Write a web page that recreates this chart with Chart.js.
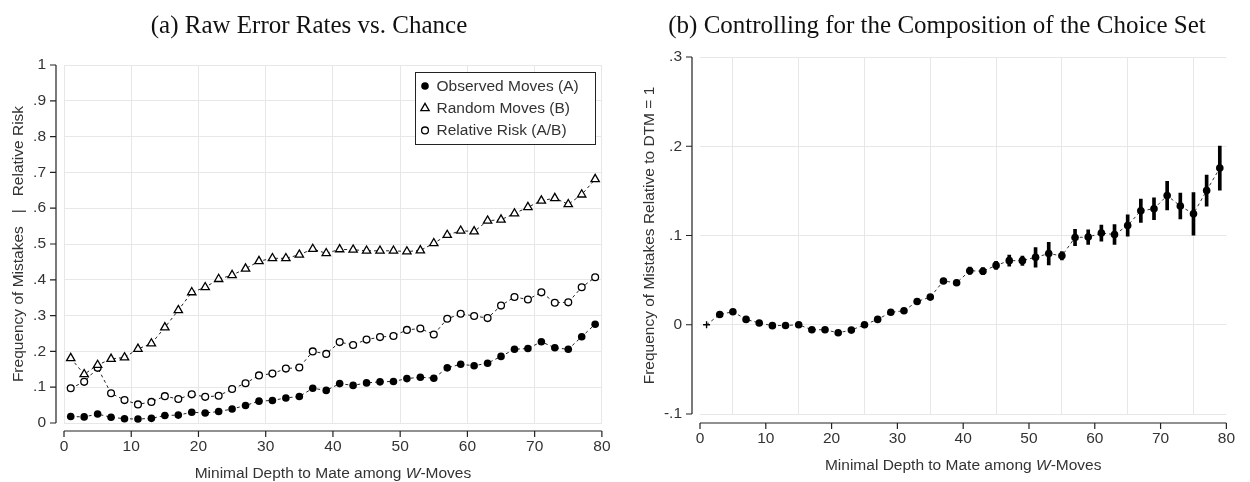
<!DOCTYPE html>
<html>
<head>
<meta charset="utf-8">
<script src="https://cdn.jsdelivr.net/npm/chart.js@4"></script>
<style>
  html, body { margin: 0; padding: 0; background: #fff; }
  body { width: 1250px; height: 482px; position: relative; overflow: hidden; }
  .panel { position: absolute; top: 0; width: 625px; height: 482px; }
  .ptitle { position: absolute; top: 12px; font: 25px/25px "Liberation Serif", serif; color: #111;
            white-space: nowrap; transform: translateX(-50%); }
</style>
</head>
<body>
<div class="panel" style="left:0"><canvas id="chartA"></canvas></div>
<div class="panel" style="left:625px"><canvas id="chartB"></canvas></div>
<div class="ptitle" style="left:309px">(a) Raw Error Rates vs. Chance</div>
<div class="ptitle" style="left:937px">(b) Controlling for the Composition of the Choice Set</div>
<script>
// ---------------- DATA ----------------
const depth = [1, 3, 5, 7, 9, 11, 13, 15, 17, 19, 21, 23, 25, 27, 29, 31, 33, 35, 37, 39,
               41, 43, 45, 47, 49, 51, 53, 55, 57, 59, 61, 63, 65, 67, 69, 71, 73, 75, 77, 79];

// panel (a)
const observed = [.018, .017, .025, .016, .012, .011, .013, .021, .022, .030,
                  .028, .032, .039, .049, .061, .063, .070, .074, .097, .091,
                  .110, .105, .112, .115, .116, .124, .128, .125, .154, .164,
                  .160, .167, .186, .206, .208, .227, .210, .206, .241, .276];
const randomMoves = [.181, .136, .162, .179, .183, .207, .222, .267, .315, .365,
                     .379, .402, .413, .431, .452, .460, .460, .470, .486, .474,
                     .485, .484, .481, .481, .481, .479, .482, .502, .525, .537,
                     .535, .565, .568, .585, .603, .621, .628, .611, .638, .681];
const relRisk = [.097, .115, .154, .083, .064, .052, .059, .075, .067, .080,
                 .073, .076, .095, .111, .133, .138, .152, .155, .200, .193,
                 .226, .218, .233, .240, .243, .260, .264, .247, .291, .305,
                 .299, .293, .328, .352, .345, .365, .336, .337, .379, .407];

// panel (b)
const relToDtm1 = [0, .0115, .0146, .006, .002, -.001, -.0008, 0, -.0056, -.0056,
                   -.009, -.006, 0, .006, .014, .0157, .026, .031, .049, .047,
                   .0605, .060, .0665, .0718, .0718, .0756, .0797, .0772, .0978, .0982,
                   .1027, .1011, .1112, .1277, .130, .1448, .133, .1243, .1504, .1755];
const ciHalf = [0, .0015, .0015, .0015, .0015, .0015, .0015, .0015, .0015, .0015,
                .002, .002, .002, .002, .002, .002, .0025, .0025, .003, .003,
                .004, .004, .0045, .0063, .0052, .011, .0127, .0047, .0092, .0082,
                .009, .0112, .012, .013, .0123, .016, .0144, .0239, .0174, .0248];

const xTicks = [0, 10, 20, 30, 40, 50, 60, 70, 80];
const xTickLabels = ["0", "10", "20", "30", "40", "50", "60", "70", "80"];
const yTicksA = [0, .1, .2, .3, .4, .5, .6, .7, .8, .9, 1];
const yTickLabelsA = ["0", ".1", ".2", ".3", ".4", ".5", ".6", ".7", ".8", ".9", "1"];
const yTicksB = [-.1, 0, .1, .2, .3];
const yTickLabelsB = ["-.1", "0", ".1", ".2", ".3"];

const legendLabels = ["Observed Moves (A)", "Random Moves (B)", "Relative Risk (A/B)"];
const xTitleParts = ["Minimal Depth to Mate among ", "W", "-Moves"];
const yTitleA = "Frequency of Mistakes   |   Relative Risk";
const yTitleB = "Frequency of Mistakes Relative to DTM = 1";

// ---------------- STYLE ----------------
const FONT = '"Liberation Sans", Arial, sans-serif';
const FS = 15.5;
const TXT = "#333";
const GRID = "#e7e7e7";
const AXIS = "#222";

Chart.defaults.font.family = FONT;
Chart.defaults.font.size = FS;
Chart.defaults.color = TXT;

// detached axes (Stata look) + x title with italic W
const stataAxes = {
  id: "stataAxes",
  afterDraw(chart, args, o) {
    const { ctx, chartArea: a, scales: { x, y } } = chart;
    const ax = a.left - o.offY, ay = a.bottom + o.offX;
    ctx.save();
    ctx.strokeStyle = AXIS;
    ctx.lineWidth = 1.2;
    ctx.beginPath();
    ctx.moveTo(ax, y.getPixelForValue(y.max));
    ctx.lineTo(ax, y.getPixelForValue(y.min));
    y.ticks.forEach((t) => {
      const p = y.getPixelForValue(t.value);
      ctx.moveTo(ax, p); ctx.lineTo(ax - 6, p);
    });
    ctx.moveTo(x.getPixelForValue(x.min), ay);
    ctx.lineTo(x.getPixelForValue(x.max), ay);
    x.ticks.forEach((t) => {
      const p = x.getPixelForValue(t.value);
      ctx.moveTo(p, ay); ctx.lineTo(p, ay + 6);
    });
    ctx.stroke();

    // x title
    const fonts = [`${FS}px ${FONT}`, `italic ${FS}px ${FONT}`, `${FS}px ${FONT}`];
    const widths = xTitleParts.map((s, i) => { ctx.font = fonts[i]; return ctx.measureText(s).width; });
    let cx = (a.left + a.right) / 2 - widths.reduce((p, c) => p + c, 0) / 2;
    ctx.fillStyle = TXT;
    ctx.textBaseline = "alphabetic";
    ctx.textAlign = "left";
    xTitleParts.forEach((s, i) => {
      ctx.font = fonts[i];
      ctx.fillText(s, cx, ay + 47);
      cx += widths[i];
    });
    ctx.restore();
  },
};

// boxed legend inside plot (a)
const boxLegend = {
  id: "boxLegend",
  afterDraw(chart) {
    const { ctx, chartArea: a } = chart;
    const w = 180, h = 72;
    const l = Math.round(a.right - 7 - w), t = Math.round(a.top + 7);
    ctx.save();
    ctx.fillStyle = "#fff";
    ctx.fillRect(l, t, w, h);
    ctx.strokeStyle = AXIS;
    ctx.lineWidth = 1;
    ctx.strokeRect(l + 0.5, t + 0.5, w, h);
    chart.data.datasets.forEach((ds, i) => {
      const cy = t + 14 + i * 22.2;
      ctx.fillStyle = ds.pointBackgroundColor;
      ctx.strokeStyle = ds.pointBorderColor;
      ctx.lineWidth = ds.pointBorderWidth;
      Chart.helpers.drawPoint(ctx, {
        pointStyle: ds.pointStyle, radius: ds.pointRadius,
        borderWidth: ds.pointBorderWidth, rotation: 0,
      }, l + 10, cy);
      ctx.fillStyle = TXT;
      ctx.font = `${FS}px ${FONT}`;
      ctx.textBaseline = "middle";
      ctx.fillText(legendLabels[i], l + 21.5, cy + 0.5);
    });
    ctx.restore();
  },
};

function makeScales(sz) {
  return {
    x: {
      type: "linear", min: 0, max: 80, offset: false,
      afterBuildTicks: (s) => { s.ticks = xTicks.map((v) => ({ value: v })); },
      afterFit: (s) => { s.height = sz.xH; },
      grid: { color: GRID, drawTicks: false, lineWidth: 1 },
      border: { display: false },
      ticks: { padding: sz.xPad, color: TXT, maxRotation: 0, autoSkip: false,
               callback: (v, i) => xTickLabels[i] },
    },
    y: {
      type: "linear", min: sz.yTicks[0], max: sz.yTicks[sz.yTicks.length - 1],
      afterBuildTicks: (s) => { s.ticks = sz.yTicks.map((v) => ({ value: v })); },
      afterFit: (s) => { s.width = sz.yW; },
      grid: { color: GRID, drawTicks: false, lineWidth: 1 },
      border: { display: false },
      ticks: { padding: 18, color: TXT, autoSkip: false,
               callback: (v, i) => sz.yLabels[i] },
      title: { display: true, text: sz.yTitle, color: TXT, padding: sz.titlePad,
               font: { size: FS } },
    },
  };
}

const common = {
  responsive: true,
  maintainAspectRatio: false,
  animation: false,
  events: [],
};

// ---------------- CHART A ----------------
new Chart(document.getElementById("chartA"), {
  type: "line",
  data: {
    datasets: [
      {
        data: depth.map((x, i) => ({ x, y: observed[i] })),
        borderColor: "#222", borderWidth: 1, borderDash: [3, 3],
        pointStyle: "circle", pointRadius: 3.8,
        pointBackgroundColor: "#000", pointBorderColor: "#000", pointBorderWidth: 0,
      },
      {
        data: depth.map((x, i) => ({ x, y: randomMoves[i] })),
        borderColor: "#222", borderWidth: 1, borderDash: [3, 3],
        pointStyle: "triangle", pointRadius: 4.8,
        pointBackgroundColor: "#fff", pointBorderColor: "#000", pointBorderWidth: 1.3,
      },
      {
        data: depth.map((x, i) => ({ x, y: relRisk[i] })),
        borderColor: "#222", borderWidth: 1, borderDash: [3, 3],
        pointStyle: "circle", pointRadius: 3.4,
        pointBackgroundColor: "#fff", pointBorderColor: "#000", pointBorderWidth: 1.3,
      },
    ],
  },
  options: {
    ...common,
    layout: { padding: { left: 0, top: 65, right: 23, bottom: 0 } },
    scales: makeScales({ xH: 59, xPad: 14.5, yW: 64, yTicks: yTicksA, yLabels: yTickLabelsA,
                         yTitle: yTitleA, titlePad: 9 }),
    plugins: { legend: { display: false }, tooltip: { enabled: false },
               stataAxes: { offX: 8, offY: 8 } },
  },
  plugins: [stataAxes, boxLegend],
});

// ---------------- CHART B ----------------
new Chart(document.getElementById("chartB"), {
  type: "line",
  data: {
    datasets: [
      {
        type: "line",
        data: depth.map((x, i) => ({ x, y: relToDtm1[i] })),
        borderColor: "#333", borderWidth: 1, borderDash: [3, 3],
        pointStyle: (c) => (c.dataIndex === 0 ? "cross" : "circle"),
        pointRadius: (c) => (c.dataIndex === 0 ? 3.5 : 3.8),
        pointBackgroundColor: "#000", pointBorderColor: "#000",
        pointBorderWidth: (c) => (c.dataIndex === 0 ? 1.4 : 0),
        order: 0,
      },
      {
        type: "bar",
        data: depth.map((x, i) => ({ x, y: [relToDtm1[i] - ciHalf[i], relToDtm1[i] + ciHalf[i]] })),
        backgroundColor: "#000", borderWidth: 0, barThickness: 3,
        order: 1,
      },
    ],
  },
  options: {
    ...common,
    layout: { padding: { left: 0, top: 57, right: 19, bottom: 0 } },
    scales: makeScales({ xH: 68, xPad: 15, yW: 75, yTicks: yTicksB, yLabels: yTickLabelsB,
                         yTitle: yTitleB, titlePad: 15 }),
    plugins: { legend: { display: false }, tooltip: { enabled: false },
               stataAxes: { offX: 9, offY: 8 } },
  },
  plugins: [stataAxes],
});
</script>
</body>
</html>
